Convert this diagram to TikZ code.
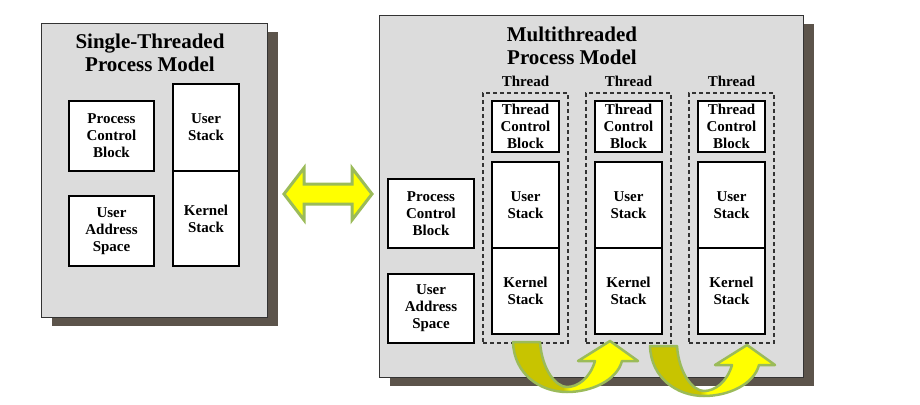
\documentclass[tikz,border=0pt]{standalone}
\usepackage{fontspec}
\setmainfont{Liberation Serif}
\usetikzlibrary{shadows}

\definecolor{panelgray}{HTML}{DCDCDC}
\definecolor{shadowbrown}{HTML}{5C544B}
\definecolor{arrowgreen}{HTML}{9BBB59}
\definecolor{arrowyellow}{HTML}{FFFF00}
\definecolor{arrowolive}{HTML}{C8C400}

\pgfdeclarehorizontalshading{swapshade}{100bp}{color(0bp)=(arrowolive); color(25bp)=(arrowolive); color(45bp)=(arrowolive); color(48bp)=(arrowyellow); color(75bp)=(arrowyellow); color(100bp)=(arrowyellow)}

\tikzset{
  panel/.style={draw=black!80, line width=1.2pt, fill=panelgray, anchor=north west,
    general shadow={fill=shadowbrown, shadow xshift=10pt, shadow yshift=-8pt}},
  title/.style={align=center, font=\fontsize{21}{23}\selectfont\bfseries},
  block/.style={draw, line width=1.2pt, fill=white, inner sep=0pt, align=center,
    font=\fontsize{15}{17}\selectfont\bfseries},
  threadbox/.style={draw=black!80, line width=1.1pt, dash pattern=on 4pt off 3pt,
    minimum width=85pt, minimum height=250pt, inner sep=0pt},
  threadlabel/.style={font=\fontsize{15}{17}\selectfont\bfseries},
  swaparrow/.style={draw=arrowgreen, line width=2.5pt, line join=round, shading=swapshade},
}

\begin{document}
\begin{tikzpicture}[x=1pt,y=-1pt]
  \useasboundingbox (0,0) rectangle (920,404);

  % single-threaded model
  \node[panel, minimum width=226pt, minimum height=294pt] (single) at (41,23) {};
  \node[title] (stitle) at (150,53) {Single-Threaded\\Process Model};
  \node[block, minimum width=85pt, minimum height=70pt] (spcb) at (111.5,136) {Process\\Control\\Block};
  \node[block, minimum width=85pt, minimum height=70pt] (suas) at (111.5,231) {User\\Address\\Space};
  \node[block, minimum width=66pt, minimum height=87pt] (sus) at (206,127.5) {User\\Stack};
  \node[block, minimum width=66pt, minimum height=95pt] (sks) at (206,218.5) {Kernel\\Stack};

  % multithreaded model
  \node[panel, minimum width=424pt, minimum height=362pt] (multi) at (379,15) {};
  \node[title] (mtitle) at (572,46) {Multithreaded\\Process Model};
  \node[block, minimum width=86pt, minimum height=69pt] (mpcb) at (431,213.5) {Process\\Control\\Block};
  \node[block, minimum width=86pt, minimum height=69pt] (muas) at (431,308.5) {User\\Address\\Space};
  \foreach \i in {0,1,2} {
    \node[threadbox] (t\i) at (525.5+103*\i,218) {};
    \node[threadlabel] (tl\i) at (525.5+103*\i,81) {Thread};
    \node[block, minimum width=67pt, minimum height=51pt] (tcb\i) at (525.5+103*\i,126.5) {Thread\\Control\\Block};
    \node[block, minimum width=67pt, minimum height=86pt] (us\i) at (525.5+103*\i,205) {User\\Stack};
    \node[block, minimum width=67pt, minimum height=86pt] (ks\i) at (525.5+103*\i,291) {Kernel\\Stack};
  }

  % double arrow between the models
  \coordinate (dl) at (284,194);
  \coordinate (dr) at (372,194);
  \draw[draw=arrowgreen, fill=arrowyellow, line width=3pt, line join=miter]
    (dl) -- (304,168) -- (304,184) -- (352,184) -- (352,168) -- (dr)
    -- (352,220) -- (352,204) -- (304,204) -- (304,220) -- cycle;

  % switching arrows between threads
  \foreach \s in {(0,0),(137,4)} {
    \draw[swaparrow, shift={\s}]
      (513,342) .. controls (514,374) and (540,392) .. (567,392)
      .. controls (592,392) and (617,380) .. (622,361)
      -- (638,361) -- (610,341) -- (578,361) -- (595,361)
      .. controls (590,378) and (578,387) .. (567,387)
      .. controls (556,387) and (542,370) .. (540,342) -- cycle;
  }
\end{tikzpicture}
\end{document}
